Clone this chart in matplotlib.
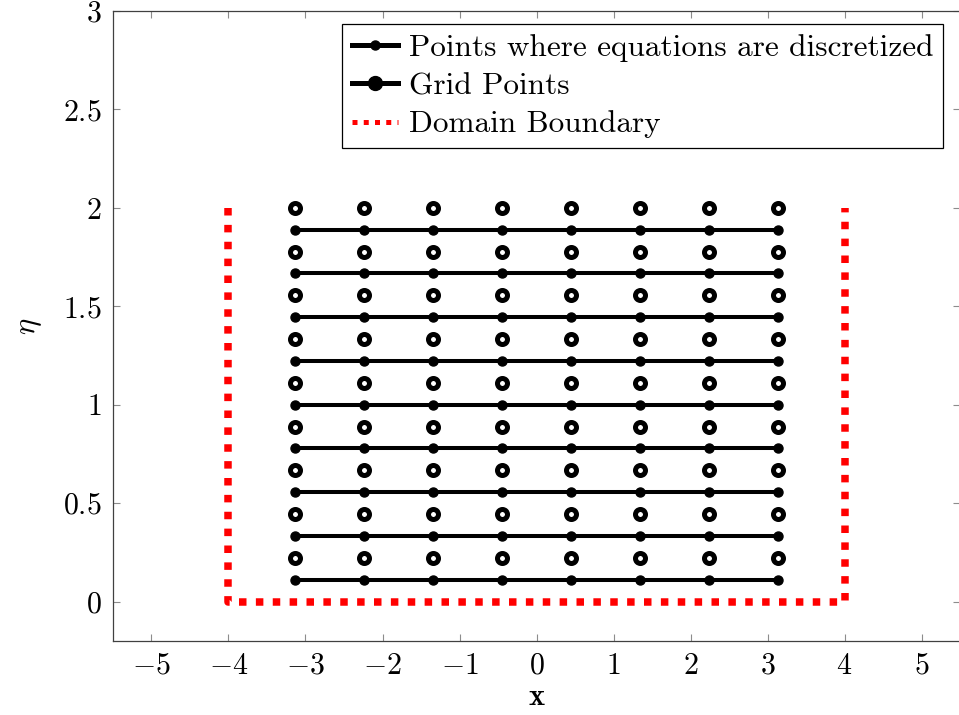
import numpy as np
import matplotlib
matplotlib.use('Agg')
import matplotlib.pyplot as plt

plt.rcParams['font.family'] = 'serif'
plt.rcParams['font.serif'] = ['cmr10']
plt.rcParams['mathtext.fontset'] = 'cm'
plt.rcParams['axes.unicode_minus'] = False
plt.rcParams['axes.formatter.use_mathtext'] = True

# grid columns in x (from -pi to pi) and eta levels
x_nodes = [-3.1416, -2.2440, -1.3464, -0.4488, 0.4488, 1.3464, 2.2440, 3.1416]
eta_grid = [0.2222, 0.4444, 0.6667, 0.8889, 1.1111, 1.3333, 1.5556, 1.7778, 2.0]
eta_disc = [0.1111, 0.3333, 0.5556, 0.7778, 1.0, 1.2222, 1.4444, 1.6667, 1.8889]

# domain boundary
bnd_x = [-4, -4, 4, 4]
bnd_y = [2, 0, 0, 2]

xticks = [-5, -4, -3, -2, -1, 0, 1, 2, 3, 4, 5]
yticks = [0, 0.5, 1, 1.5, 2, 2.5, 3]

fig = plt.figure(figsize=(9.59, 7.15), dpi=100)
ax = fig.add_axes([113/959, 1 - 641/715, (960 - 113)/959, (641 - 11)/715])

for i, e in enumerate(eta_disc):
    ax.plot(x_nodes, [e]*len(x_nodes), '-o', color='black', lw=2.9, ms=6.5,
            label='Points where equations are discretized' if i == 0 else None)

for i, e in enumerate(eta_grid):
    ax.plot(x_nodes, [e]*len(x_nodes), 'o', color='black', ms=7.2, mfc='white',
            mec='black', mew=3.6, zorder=3)

# legend proxies
ax.plot([], [], '-o', color='black', lw=2.9, ms=10, label='Grid Points')
ax.plot(bnd_x, bnd_y, color='red', lw=5.4, dashes=(1.0, 1.25),
        dash_capstyle='butt', label='Domain Boundary')

ax.set_xlim(-5.5, 5.5)
ax.set_ylim(-0.2, 3)
ax.set_xticks(xticks)
ax.set_xticklabels(['$%g$' % v if v >= 0 else '$-%g$' % -v for v in xticks])
ax.set_yticks(yticks)
ax.set_yticklabels(['$%g$' % v for v in yticks])
ax.tick_params(direction='in', length=5, width=0.8, color='0.55',
               top=True, right=True, labelsize=21.5, pad=8)
for s in ax.spines.values():
    s.set_color('0.25')
    s.set_linewidth(0.9)

ax.set_xlabel(r'$\mathbf{x}$', fontsize=22, labelpad=3)
ax.set_ylabel(r'$\eta$', fontsize=22, labelpad=14)

leg = ax.legend(loc='upper right',
                bbox_to_anchor=((943 - 113) / (960 - 113), 1 - 13 / 630),
                fontsize=22.5, frameon=True,
                fancybox=False, framealpha=1, edgecolor='black',
                handlelength=1.47, handletextpad=0.35, borderpad=0.32,
                labelspacing=0.33, borderaxespad=0)
leg.get_frame().set_linewidth(0.9)
for h in leg.get_lines():
    h.set_linewidth(3.6)

fig.savefig('out.png', dpi=100)
